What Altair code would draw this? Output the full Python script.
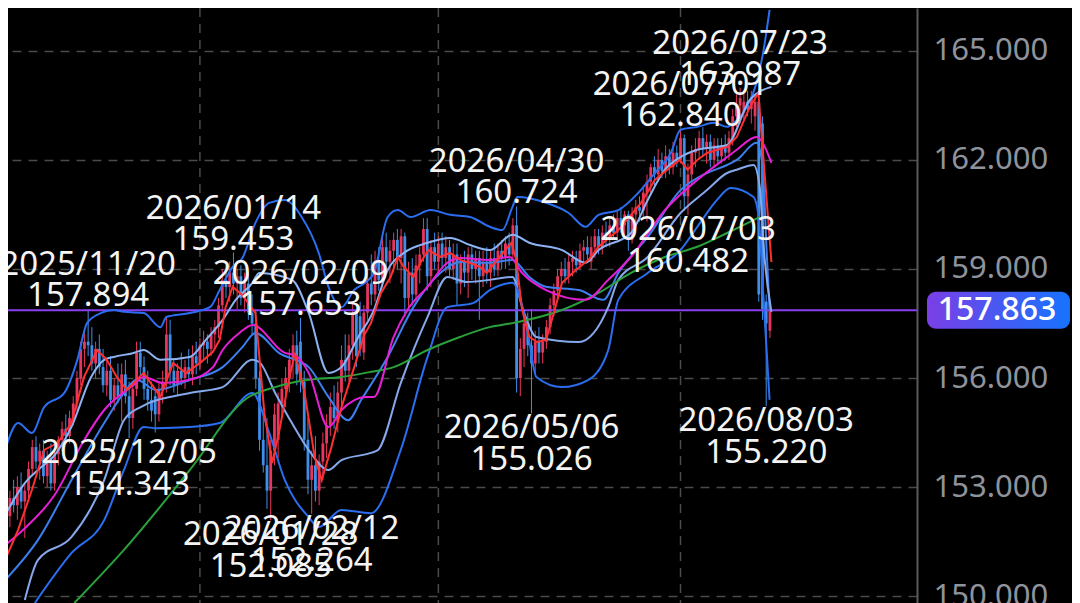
import altair as alt
import numpy as np
import pandas as pd

# ---------------- data ----------------
first_day = "2025-10-21"

opens = [151.6,152.2,152.7,152.5,153.0,152.6,152.9,153.5,154.1,153.7,
         154.0,153.3,153.8,153.1,153.9,154.3,154.6,154.4,154.9,155.3,
         156.0,156.8,157.0,156.9,156.4,156.8,156.3,155.8,156.2,155.4,
         155.8,155.5,156.1,155.5,154.9,155.7,156.7,156.3,155.7,155.4,
         155.5,155.0,155.7,155.9,157.2,156.2,155.8,156.2,156.0,156.3,
         156.1,156.6,156.4,156.9,157.0,156.8,157.2,157.4,158.0,158.7,
         158.5,158.9,158.6,158.8,158.2,158.6,157.8,157.5,156.0,154.3,
         153.6,152.9,154.0,154.3,155.3,155.7,156.0,156.5,156.9,157.0,
         155.9,154.3,153.2,153.6,152.9,153.7,154.2,154.7,155.2,154.8,
         155.6,156.5,156.2,156.9,157.8,157.7,156.7,157.8,158.6,158.3,
         159.2,158.7,159.6,159.2,159.5,159.8,159.3,159.9,158.2,158.9,
         158.3,159.1,159.4,160.1,158.8,159.6,159.2,159.7,159.3,159.6,
         159.0,159.4,158.6,159.2,158.9,159.4,159.0,159.3,158.8,159.2,
         158.9,159.3,159.0,159.5,159.3,159.7,159.4,160.2,156.0,156.8,
         157.5,156.9,156.4,157.0,156.7,157.0,157.4,158.0,158.4,158.8,
         159.0,158.8,159.2,159.3,159.1,159.5,159.6,159.2,159.6,159.9,
         159.6,160.0,159.8,160.2,160.0,160.4,160.2,160.5,159.8,160.5,
         160.7,160.6,161.1,161.4,161.8,161.6,162.0,161.7,162.1,161.8,
         162.2,162.0,162.6,161.0,161.6,162.2,162.3,162.6,162.3,162.5,
         162.0,162.4,162.1,162.4,162.2,162.6,163.2,163.5,163.3,163.6,
         163.4,163.2,163.6,163.0,158.1,157.3]
highs = [152.4,152.9,153.2,153.3,153.4,153.1,153.7,154.3,154.4,154.2,
         154.3,154.0,154.2,154.0,154.4,154.8,155.0,155.1,155.5,156.2,
         157.0,157.3,157.894,157.4,157.0,157.2,156.8,156.5,156.6,156.0,
         156.4,156.4,156.5,155.9,155.9,157.0,157.0,156.6,156.2,155.9,
         155.7,155.9,156.2,157.7,157.6,156.5,156.4,156.7,156.5,156.8,
         156.9,157.0,157.1,157.3,157.2,157.4,157.6,158.2,159.0,159.1,
         159.2,159.453,159.0,159.1,158.9,158.9,158.3,157.9,156.2,155.0,
         154.9,154.3,155.3,155.6,156.0,156.3,156.8,157.2,157.3,157.653,
         156.2,154.9,154.0,154.4,153.9,154.5,155.0,155.6,155.8,155.9,
         156.9,157.2,157.2,158.1,158.0,158.1,158.0,158.9,159.4,159.5,
         159.6,159.9,160.0,159.8,160.0,160.1,160.1,160.0,159.2,159.3,
         159.4,159.6,160.4,160.4,159.8,160.0,159.9,160.0,159.9,159.8,
         159.7,159.7,159.4,159.5,159.6,159.6,159.5,159.5,159.5,159.6,
         159.5,159.7,159.7,159.8,159.9,160.0,160.4,160.724,157.1,157.9,
         157.8,157.9,157.3,157.4,157.2,157.6,158.2,158.6,159.0,159.2,
         159.3,159.4,159.5,159.5,159.7,159.8,159.9,159.9,160.1,160.1,
         160.2,160.3,160.4,160.5,160.6,160.7,160.6,160.6,160.7,160.9,
         161.0,161.3,161.6,161.9,162.1,162.3,162.2,162.4,162.3,162.5,
         162.4,162.84,162.7,161.9,162.4,162.6,162.8,162.9,162.7,162.7,
         162.6,162.6,162.6,162.7,162.8,163.4,163.8,163.987,163.9,163.9,
         163.9,163.8,163.95,163.2,158.3,157.95]
lows = [151.4,151.9,152.3,152.1,152.4,151.6,152.6,153.3,153.5,153.2,
        153.1,153.0,152.9,152.9,153.6,154.0,154.2,154.2,154.7,155.1,
        155.8,156.3,156.6,156.2,156.0,156.1,155.6,155.5,155.2,155.1,
        155.3,154.8,155.3,154.343,154.6,155.5,156.0,155.4,155.1,154.8,
        154.5,154.8,155.3,155.6,155.8,155.6,155.5,155.8,155.7,155.9,
        155.8,156.1,156.2,156.5,156.4,156.6,156.8,157.1,157.8,158.2,
        158.1,158.3,157.9,158.0,157.8,157.6,157.2,155.7,154.0,153.4,
        152.4,152.085,153.6,153.8,154.9,155.2,155.6,156.0,155.8,155.6,
        154.0,152.8,152.264,152.6,152.5,153.2,153.8,154.4,154.6,154.5,
        155.2,155.9,155.9,156.5,156.3,156.6,156.5,157.6,158.0,158.1,
        158.4,158.5,158.9,158.6,158.9,159.0,158.6,157.7,157.9,158.0,
        158.1,158.6,159.2,158.4,158.5,159.0,158.8,159.0,158.9,158.8,
        158.7,158.0,158.3,158.5,158.2,158.7,158.6,157.6,158.5,158.6,
        158.5,158.8,158.8,159.0,159.0,159.1,159.3,155.6,155.5,156.3,
        156.6,155.026,156.1,156.4,156.4,156.8,157.2,157.7,158.1,158.5,
        158.6,158.6,158.8,158.9,159.0,159.2,159.2,159.0,159.3,159.4,
        159.4,159.6,159.6,159.8,159.8,160.0,159.9,159.5,159.7,160.1,
        160.3,160.4,160.3,161.1,161.3,161.4,161.5,161.5,161.6,161.6,
        161.8,161.9,160.6,160.482,161.3,161.8,162.0,162.1,161.9,161.8,
        161.8,161.9,161.9,162.0,162.0,162.4,162.9,163.0,163.1,163.2,
        163.0,162.8,158.1,157.6,155.22,157.1]
closes = [152.2,152.7,152.5,153.0,152.6,152.9,153.5,154.1,153.7,154.0,
          153.3,153.8,153.1,153.9,154.3,154.6,154.4,154.9,155.3,156.0,
          156.8,157.0,156.9,156.4,156.8,156.3,155.8,156.2,155.4,155.8,
          155.5,156.1,155.5,154.9,155.7,156.7,156.3,155.7,155.4,155.1,
          155.0,155.7,155.9,157.2,156.2,155.8,156.2,156.0,156.3,156.1,
          156.6,156.4,156.9,157.0,156.8,157.2,157.4,158.0,158.7,158.5,
          158.9,158.6,158.8,158.2,158.7,157.8,157.5,156.0,154.3,153.6,
          152.9,154.0,155.0,155.3,155.7,156.0,156.5,156.9,156.1,155.9,
          154.3,153.2,153.6,152.9,153.7,154.2,154.7,155.2,154.9,155.6,
          156.5,156.2,156.9,157.8,156.6,156.8,157.8,158.6,158.3,159.2,
          158.7,159.6,159.2,159.5,159.8,159.3,159.9,158.2,158.9,158.3,
          159.1,159.4,160.1,158.8,159.6,159.2,159.7,159.3,159.6,159.0,
          159.4,158.6,159.2,158.9,159.4,159.0,159.3,158.8,159.2,158.9,
          159.3,159.0,159.5,159.3,159.7,159.4,160.2,156.0,156.8,157.5,
          156.9,156.4,157.0,156.7,157.0,157.4,158.0,158.4,158.8,159.0,
          158.8,159.2,159.3,159.1,159.5,159.6,159.4,159.6,159.9,159.6,
          160.0,159.8,160.2,160.0,160.4,160.2,160.5,159.8,160.5,160.7,
          160.6,161.1,161.4,161.8,161.6,162.0,161.7,162.1,161.8,162.2,
          162.0,162.6,161.0,161.6,162.2,162.3,162.6,162.3,162.5,162.0,
          162.4,162.1,162.4,162.2,162.6,163.2,163.5,163.7,163.6,163.4,
          163.7,163.6,158.3,157.9,157.5,157.863]

# indicator lines: bar number (0 = 2026/01/01) and price
ru_bars = [-52.3,-48.8,-45.1,-41.8,-36.4,-32.9,-30.3,-26.5,-23.1,-20.4,-15.1,-10.6,-9.0,-2.7,2.7,5.3,8.8,11.4,14.9,18.6,22.8,27.3,31.9,34.5,38.0,41.4,44.6,46.7,50.4,53.1,56.5,61.9,67.2,72.5,77.8,81.2,83.9,85.2,92.9,99.0,103.5,107.0,112.3,117.6,122.1,126.4,129.0,133.5,138.0,141.5,143.3,146.8,149.4,151.3,152.9]
ru_vals = [154.02,154.76,154.49,155.20,155.59,156.50,157.51,157.79,157.87,157.82,157.79,157.40,157.68,157.79,157.95,158.42,159.06,159.30,160.27,160.82,160.90,160.43,159.44,158.51,157.95,158.42,158.64,158.89,160.43,160.62,160.43,160.62,160.49,160.43,160.16,160.07,160.71,160.98,160.82,160.54,160.16,160.49,160.62,161.09,161.64,162.19,162.83,162.91,163.02,162.91,163.02,163.46,164.12,165.03,166.13]

pu_bars = [-52.3,-47.0,-43.5,-39.0,-34.5,-29.2,-25.7,-23.1,-17.8,-15.1,-10.6,-2.7,1.6,6.1,9.6,14.1,15.9,24.7,29.2,34.5,38.0,42.5,46.7,50.4,54.7,61.1,67.2,72.5,77.8,83.9,88.4,97.2,103.5,107.0,115.7,120.2,124.8,129.0,133.5,141.5,147.6,153.4]
pu_vals = [152.23,153.11,153.47,153.88,154.65,156.03,156.50,156.58,156.69,156.77,156.50,156.58,157.05,157.60,158.15,158.62,158.89,158.70,157.79,156.14,156.30,157.13,157.87,158.97,159.44,159.72,159.85,159.66,159.52,159.94,159.72,159.52,159.17,159.52,159.99,160.90,161.73,162.08,162.28,162.41,163.65,164.01]

mg_bars = [-52.3,-47.5,-39.0,-31.1,-25.7,-17.8,-15.1,-9.8,-2.7,3.5,6.1,10.6,14.1,22.8,25.5,29.2,34.5,38.0,44.6,46.7,52.0,55.7,61.1,66.4,69.8,77.8,83.1,86.5,92.9,103.5,109.6,115.7,124.8,133.5,141.5,144.1,149.4,153.4]
mg_vals = [151.40,151.82,152.78,154.29,155.12,155.81,156.03,155.86,155.95,156.30,156.77,157.24,157.46,156.69,156.63,156.14,154.65,155.12,155.48,155.48,157.13,157.87,158.51,159.17,159.30,159.25,159.33,158.89,158.42,158.15,158.70,159.33,160.62,161.45,162.08,162.28,162.63,161.92]

md_bars = [-52.3,-43.5,-34.5,-25.7,-20.4,-17.0,-11.7,-2.7,6.1,11.4,14.9,21.2,29.2,34.5,39.8,43.3,50.4,57.3,64.5,69.8,77.8,83.9,88.4,92.9,101.7,108.3,112.3,120.2,129.0,136.1,141.5,144.1,149.4,151.0,152.1,152.9]
md_vals = [150.44,151.54,153.19,154.76,155.59,155.95,155.67,155.95,156.30,156.85,157.24,156.69,156.30,155.48,154.84,155.40,156.58,157.95,158.89,159.19,159.17,159.25,158.78,158.51,158.42,158.15,158.89,159.88,161.17,161.64,161.86,162.00,162.47,161.86,159.52,157.87]

pl_bars = [-47.0,-43.5,-34.5,-25.7,-20.4,-15.9,-2.7,6.1,14.1,15.9,20.2,24.7,29.2,34.5,38.0,45.9,47.8,53.9,61.1,66.4,71.7,77.8,83.9,86.5,90.3,101.7,109.6,112.3,120.2,129.0,136.1,141.5,144.1,148.6,150.2,151.6,153.4]
pl_vals = [149.89,150.99,151.62,153.19,154.84,155.20,155.59,155.75,156.50,156.44,155.59,154.76,154.02,153.47,153.74,153.94,154.02,155.86,157.68,158.78,158.64,158.70,158.78,157.95,157.13,156.99,157.95,158.70,159.33,160.54,161.17,161.64,161.73,161.86,161.30,159.25,157.82]

rl_bars = [-44.3,-34.5,-25.7,-20.4,-15.1,-11.7,-2.7,5.3,14.1,18.6,22.8,29.2,31.9,38.0,45.9,53.9,61.1,66.4,73.3,77.8,83.9,87.6,90.3,97.2,104.3,109.6,112.3,120.2,129.0,133.5,138.8,142.4,148.6,149.9,151.3,152.9]
rl_vals = [149.81,151.18,152.09,153.47,154.65,154.62,154.65,154.76,155.59,154.49,153.19,152.17,151.90,152.37,152.28,154.02,156.58,157.95,158.06,158.42,158.62,157.51,156.03,155.75,155.95,156.77,158.15,158.89,159.52,160.16,160.90,161.23,160.98,160.49,158.15,155.40]

gr_bars = [-33.7,-20.4,-2.7,12.7,20.2,29.2,38.0,45.9,52.0,61.1,69.8,77.8,83.9,97.2,107.0,115.7,124.8,133.5,141.5,150.2]
gr_vals = [149.81,151.27,153.47,155.45,155.75,155.95,156.03,156.17,156.30,156.77,157.13,157.40,157.51,157.87,158.34,158.89,159.33,159.61,159.99,160.43]

rd_bars = [-52.3,-48.8,-45.1,-41.8,-38.2,-34.5,-31.1,-27.6,-25.0,-22.3,-19.6,-15.1,-10.6,-7.2,-3.7,0,3.5,5.3,6.9,8.8,11.4,14.9,17.3,19.4,21.2,23.9,25.5,28.1,30.8,32.7,35.3,38.0,40.6,44.1,45.9,48.6,51.2,53.1,54.7,57.3,59.2,61.3,64.5,67.2,69.8,72.5,75.1,77.0,80.4,83.6,84.9,86.5,88.4,90.5,92.9,95.0,97.2,100.9,104.3,107.0,112.3,118.4,122.1,126.4,128.8,130.9,133.5,136.1,141.5,144.1,147.6,149.9,153.4]
rd_vals = [150.99,151.82,152.92,154.02,154.21,154.76,156.03,156.77,156.50,156.03,155.67,156.14,155.48,156.41,156.14,156.41,156.72,157.05,157.95,158.51,158.28,157.79,155.04,153.66,154.49,155.95,156.69,155.59,153.83,153.19,154.10,155.20,156.03,157.18,157.51,158.34,158.78,159.33,159.06,158.78,159.17,159.52,159.33,159.44,159.25,159.17,159.06,158.89,159.33,159.72,159.25,157.87,157.13,156.99,157.05,157.79,158.62,158.97,159.25,159.61,160.07,160.82,161.45,161.81,162.00,161.73,162.00,162.19,162.36,162.63,163.46,163.84,159.19]

ann_dates = ["2025/11/20", "2025/12/05", "2026/01/14", "2026/01/28", "2026/02/09", "2026/02/12",
             "2026/04/30", "2026/05/06", "2026/07/01", "2026/07/03", "2026/07/23", "2026/08/03"]
ann_values = [157.894, 154.343, 159.453, 152.085, 157.653, 152.264,
              160.724, 155.026, 162.840, 160.482, 163.987, 155.220]
ann_kinds = ["high", "low", "high", "low", "high", "low",
             "high", "low", "high", "low", "high", "low"]

grid_dates = ["2026/01/01", "2026/04/01", "2026/07/01"]
y_ticks = [150, 153, 156, 159, 162, 165]

# ---------------- styles ----------------
BG = "#000000"
UP = "#e8375e"
DOWN = "#3f8fe8"
GRID = "#4a4a4a"
FONT = "Noto Sans"

# ---------------- frames ----------------
dates = pd.bdate_range(first_day, periods=len(opens))
labels = list(dates.strftime("%Y/%m/%d"))
origin = labels.index("2026/01/01")
bar_of = {d: i - origin for i, d in enumerate(labels)}

candles = pd.DataFrame({
    "date": labels,
    "bar": [bar_of[d] for d in labels],
    "open": opens, "high": highs, "low": lows, "close": closes,
})
candles["dir"] = np.where(candles["close"] >= candles["open"], "up", "down")

ann = pd.DataFrame({"date": ann_dates, "value": ann_values, "kind": ann_kinds})
ann["bar"] = ann["date"].map(bar_of)
ann["vtext"] = ann["value"].map(lambda v: f"{v:.3f}")

grid_df = pd.DataFrame({"bar": [bar_of[d] for d in grid_dates]})
last_price = closes[-1]

x_scale = alt.Scale(domain=[-50.17, 191.13], nice=False, zero=False)
y_scale = alt.Scale(domain=[149.81, 166.18], nice=False, zero=False)

y_axis = alt.Axis(
    orient="right", values=y_ticks, format=".3f", title=None,
    labelFont=FONT, labelFontSize=31, labelColor="#8e939c", labelPadding=16,
    ticks=False, domain=True, domainColor="#5a5a5a", domainWidth=2,
    grid=True, gridColor=GRID, gridDash=[9, 7], gridWidth=1.5,
)


def X(f="bar"):
    return alt.X(f"{f}:Q", scale=x_scale, axis=None)


def Y(f=None, datum=None):
    if datum is not None:
        return alt.Y(datum=datum, scale=y_scale, axis=y_axis)
    return alt.Y(f"{f}:Q", scale=y_scale, axis=y_axis)


vgrid = alt.Chart(grid_df).mark_rule(color=GRID, strokeDash=[9, 7], strokeWidth=1.5).encode(x=X())

color_dir = alt.Color("dir:N", scale=alt.Scale(domain=["up", "down"], range=[UP, DOWN]), legend=None)

wicks = alt.Chart(candles).mark_rule(strokeWidth=1, clip=True).encode(
    x=X(), y=Y("low"), y2="high:Q", color=color_dir,
)
bodies = alt.Chart(candles).mark_bar(size=2.8, clip=True).encode(
    x=X(), y=Y("open"), y2="close:Q", color=color_dir,
)

price_rule = alt.Chart().mark_rule(color="#8a40f0", strokeWidth=2).encode(y=Y(datum=last_price))


def line_layer(bars, vals, color, interp="monotone"):
    df = pd.DataFrame({"bar": bars, "value": vals})
    return alt.Chart(df).mark_line(color=color, strokeWidth=2, clip=True, interpolate=interp).encode(
        x=X(), y=Y("value")
    )


lines = [
    line_layer(ru_bars, ru_vals, "#2b6ef2"),
    line_layer(pu_bars, pu_vals, "#8db3f2"),
    line_layer(md_bars, md_vals, "#3d7fee"),
    line_layer(pl_bars, pl_vals, "#86a9ec"),
    line_layer(rl_bars, rl_vals, "#2b6ef2"),
    line_layer(gr_bars, gr_vals, "#2aa13a"),
    line_layer(mg_bars, mg_vals, "#e51fd6"),
    line_layer(rd_bars, rd_vals, "#ff3030", "linear"),
]

text_style = dict(font=FONT, fontSize=33, color="#f4f4f4", clip=True, align="center", baseline="middle")


def ann_text(kind, field, dy):
    return alt.Chart(ann[ann["kind"] == kind]).mark_text(dy=dy, **text_style).encode(
        x=X(), y=Y("value"), text=f"{field}:N"
    )


texts = [
    ann_text("high", "date", -44), ann_text("high", "vtext", -13),
    ann_text("low", "date", 15), ann_text("low", "vtext", 47),
]

badge_fill = alt.LinearGradient(
    gradient="linear",
    stops=[alt.GradientStop(color="#7a3fe6", offset=0), alt.GradientStop(color="#1673ff", offset=1)],
    x1=0, x2=1, y1=0, y2=0,
)
badge = alt.Chart().mark_rect(height=37, cornerRadius=9, fill=badge_fill).encode(
    x=alt.value(919), x2=alt.value(1062), y=Y(datum=last_price)
)
badge_text = alt.Chart().mark_text(font=FONT, fontSize=32, color="#ffffff", fontWeight=500,
                                   align="center", baseline="middle").encode(
    x=alt.value(989), y=Y(datum=last_price), text=alt.value(f"{last_price:.3f}")
)

chart = alt.layer(
    vgrid, wicks, bodies, price_rule, *lines, *texts, badge, badge_text
).properties(
    width=909, height=595,
    autosize=alt.AutoSizeParams(type="none"),
    padding={"left": 0, "top": 0, "right": 155, "bottom": 0},
).configure(background=BG).configure_view(stroke=None)

chart.save("out.html", embed_options={"renderer": "svg", "actions": False})
